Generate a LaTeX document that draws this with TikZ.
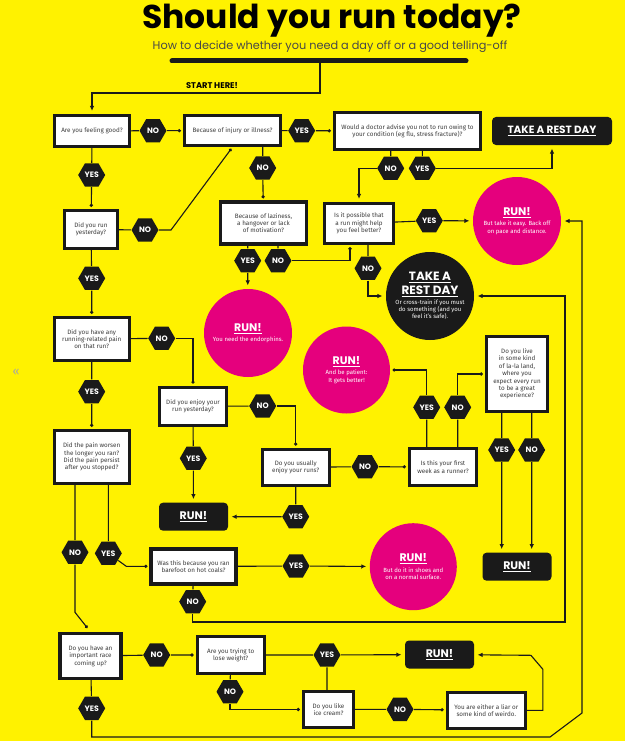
\documentclass[tikz,border=0pt]{standalone}
\usepackage{fontspec}
\setmainfont{Fira Sans}
\newfontfamily\headfont{Poppins}
\usetikzlibrary{shapes.geometric,arrows.meta}

\definecolor{flyer}{HTML}{FFF200}
\definecolor{pinkrun}{HTML}{E5007D}
\definecolor{ink}{HTML}{1A1A1A}
\definecolor{boxtext}{HTML}{3C3C3C}

\newcommand{\runtag}[2][11]{{\headfont\bfseries\fontsize{#1}{#1}\selectfont\underline{#2}}}

\begin{document}
\begin{tikzpicture}[x=1pt, y=-1pt, line width=1.1pt, draw=ink,
  q/.style={draw=ink, line width=3.2pt, fill=white, align=center, text=boxtext, inner sep=1pt, font=\fontsize{6.3}{7.4}\selectfont},
  yn/.style={regular polygon, regular polygon sides=6, fill=ink, text=white, minimum size=27pt, inner sep=0pt, font=\headfont\bfseries\fontsize{7.8}{7.8}\selectfont},
  verdict/.style={fill=ink, rounded corners=4pt, text=white, minimum width=69pt, minimum height=28pt, inner sep=0pt},
  bubble/.style={circle, fill=pinkrun, text=white, align=center, minimum size=88pt, inner sep=0pt, font=\fontsize{6}{7.2}\selectfont},
  arr/.style={-{Latex[length=5pt,width=4.5pt]}, shorten >=3pt},
  dotend/.style={-{Circle[length=3.2pt]}, shorten >=2pt}]
\fill[flyer] (0,0) rectangle (625,741);
\useasboundingbox (0,0) rectangle (625,741);

\node[font=\headfont\bfseries\fontsize{33}{33}\selectfont, anchor=base] (title) at (332,29) {Should you run today?};
\node[font=\headfont\fontsize{11.3}{11.3}\selectfont, text=ink!80, anchor=base] (subtitle) at (330,50) {How to decide whether you need a day off or a good telling-off};
\draw[line width=5pt, line cap=round] (172,61) -- (466,61);
\coordinate (barmid) at (320,61);
\node[font=\headfont\bfseries\fontsize{8.3}{8.3}\selectfont, anchor=base] (start) at (212,89) {START HERE!};
\node[text=black!35, font=\fontsize{12}{12}\selectfont] (nav) at (16,372) {«};

\node[q, minimum width=75pt, minimum height=31pt] (feel) at (92,131) {Are you feeling good?};
\node[q, minimum width=96pt, minimum height=30pt] (injury) at (232.5,130.5) {Because of injury or illness?};
\node[q, minimum width=146pt, minimum height=37pt] (doctor) at (407.5,131) {Would a doctor advise you not to run owing to\\ your condition (eg flu, stress fracture)?};
\node[verdict, minimum width=120pt] (rest1) at (552,131) {\runtag[10.5]{TAKE A REST DAY}};
\node[q, minimum width=53pt, minimum height=38pt] (yesterday) at (91,229.5) {Did you run\\ yesterday?};
\node[q, minimum width=86pt, minimum height=42pt] (laziness) at (263.5,223) {Because of laziness,\\ a hangover or lack\\ of motivation?};
\node[q, minimum width=69pt, minimum height=40pt] (possible) at (359,223.5) {Is it possible that\\ a run might help\\ you feel better?};
\node[bubble] (runeasy) at (517,221) {\runtag{RUN!}\\[3pt] But take it easy. Back off\\ on pace and distance.};
\node[bubble, fill=ink] (rest) at (430,296) {\runtag[12]{TAKE A}\\[2pt]\runtag[12]{REST DAY}\\[3pt] Or cross-train if you must\\ do something (and you\\ feel it's safe).};
\node[bubble] (endorph) at (248,333) {\runtag{RUN!}\\[3pt] You need the endorphins.};
\node[bubble, minimum size=87pt] (patient) at (346.5,370) {\runtag{RUN!}\\[3pt] And be patient:\\ It gets better!};
\node[q, minimum width=75pt, minimum height=43pt] (pain) at (91.7,339) {Did you have any\\ running-related pain\\ on that run?};
\node[q, minimum width=61pt, minimum height=75pt] (lala) at (517,374) {Do you live\\ in some kind\\ of la-la land,\\ where you\\ expect every run\\ to be a great\\ experience?};
\node[q, minimum width=67pt, minimum height=38pt] (enjoy) at (193,406.3) {Did you enjoy your\\ run yesterday?};
\node[q, minimum width=75pt, minimum height=53pt] (worsen) at (91.7,457) {Did the pain worsen\\ the longer you ran?\\ Did the pain persist\\ after you stopped?};
\node[q, minimum width=67pt, minimum height=36pt] (usually) at (295.7,467.3) {Do you usually\\ enjoy your runs?};
\node[q, minimum width=67pt, minimum height=37pt] (first) at (443,467) {Is this your first\\ week as a runner?};
\node[verdict] (run2) at (193.5,516.7) {\runtag{RUN!}};
\node[verdict] (run3) at (517,566.7) {\runtag{RUN!}};
\node[q, minimum width=85pt, minimum height=35pt] (barefoot) at (193.5,566.5) {Was this because you ran\\ barefoot on hot coals?};
\node[bubble, minimum size=87pt] (shoes) at (413.3,566.7) {\runtag{RUN!}\\[3pt] But do it in shoes and\\ on a normal surface.};
\node[q, minimum width=61pt, minimum height=45pt] (race) at (90.5,656) {Do you have an\\ important race\\ coming up?};
\node[q, minimum width=67pt, minimum height=37pt] (weight) at (230.7,655) {Are you trying to\\ lose weight?};
\node[verdict] (run4) at (439.5,654.5) {\runtag{RUN!}};
\node[q, minimum width=50pt, minimum height=36pt] (icecream) at (328.5,709.5) {Do you like\\ ice cream?};
\node[q, minimum width=78pt, minimum height=36pt] (weirdo) at (486.3,710.3) {You are either a liar or\\ some kind of weirdo.};

\foreach \nm/\x/\y/\t in {fgNo/153/130.7/NO, injYes/301.7/130.7/YES, docNo/390.7/168.3/NO, docYes/422.3/168.3/YES,
  feelYes/91.7/175/YES, injNo/262.7/168/NO, ystNo/145/230/NO, lazYes/247.7/260.7/YES, lazNo/278/260.7/NO,
  posYes/429.3/220.7/YES, posNo/368/268.3/NO, ystYes/91.7/278.3/YES, painNo/161.7/338.3/NO, painYes/91.7/391.7/YES,
  enjNo/262.7/406/NO, enjYes/193.3/458.3/YES, usuYes/295.7/516.7/YES, usuNo/365/466.7/NO,
  firstYes/426.7/407.3/YES, firstNo/457.7/407.3/NO, lalaYes/501.7/450/YES, lalaNo/531.7/450/NO,
  wrsNo/75/552.3/NO, wrsYes/108.3/553.3/YES, bfYes/296/566/YES, bfNo/192.7/601.7/NO,
  raceNo/156.7/655/NO, wtYes/327/655/YES, wtNo/230/691.7/NO, iceNo/400/709.3/NO, raceYes/91.7/708.3/YES}
  {\node[yn] (\nm) at (\x,\y) {\t};}

\draw[arr] (barmid) -- (barmid |- 0,93) -| (feel.north);
\draw (feel) -- (fgNo);
\draw[dotend] (fgNo) -- (injury);
\draw (injury) -- (injYes);
\draw[dotend] (injYes) -- (doctor);
\draw (doctor.south -| docNo) -- (docNo);
\draw (doctor.south -| docYes) -- (docYes);
\draw[arr] (docYes) -| (rest1);
\draw[arr] (docNo) -| (possible);
\draw (feel) -- (feelYes);
\draw[dotend] (feelYes) -- (yesterday);
\draw (yesterday) -- (ystNo);
\draw[dotend] (ystNo) -- ++(26,0) -- (injury.south);
\draw (injury.south -| injNo) -- (injNo);
\draw[dotend] (injNo) -- (laziness);
\draw (laziness.south -| lazYes) -- (lazYes);
\draw (laziness.south -| lazNo) -- (lazNo);
\draw[arr] (lazYes) -- (endorph);
\draw[dotend] (lazNo) -| ([xshift=-9pt]possible.south);
\draw (possible) -- (posYes);
\draw[arr] (posYes) -- (runeasy);
\draw (possible.south -| posNo) -- (posNo);
\draw[arr] (posNo) |- (rest);
\draw (yesterday) -- (ystYes);
\draw[dotend] (ystYes) -- (pain);
\draw (pain) -- (painNo);
\draw[dotend] (painNo) -| (enjoy.north);
\draw (enjoy) -- (enjNo);
\draw[dotend] (enjNo) -| (usually.north);
\draw (enjoy) -- (enjYes);
\draw[arr] (enjYes) -- (run2);
\draw (usually) -- (usuYes);
\draw[arr] (usuYes) -- (run2);
\draw (usually) -- (usuNo);
\draw[dotend] (usuNo) -- (first);
\draw (first.north -| firstYes) -- (firstYes);
\draw (first.north -| firstNo) -- (firstNo);
\draw[dotend] (firstYes) |- (patient);
\draw[dotend] (firstNo) |- (lala.west);
\draw (lala.south -| lalaYes) -- (lalaYes);
\draw (lala.south -| lalaNo) -- (lalaNo);
\draw[arr] (lalaYes) -- (lalaYes |- run3.north);
\draw[arr] (lalaNo) -- (lalaNo |- run3.north);
\draw (pain) -- (painYes);
\draw[dotend] (painYes) -- (worsen);
\draw (worsen.south -| wrsNo) -- (wrsNo);
\draw (worsen.south -| wrsYes) -- (wrsYes);
\draw[dotend] (wrsYes) -- ++(18,13) -- (barefoot);
\draw (barefoot) -- (bfYes);
\draw[arr] (bfYes) -- (shoes);
\draw (barefoot) -- (bfNo);
\draw[arr] (bfNo) |- (565,622) |- (rest);
\draw[dotend, shorten >=5pt] (wrsNo) -- ++(0,60) -- (race.north);
\draw (race) -- (raceNo);
\draw[dotend] (raceNo) -- (weight);
\draw (weight) -- (wtYes);
\draw[arr] (wtYes) -- (run4);
\draw (weight) -- (wtNo);
\draw[dotend] (wtNo) |- (icecream);
\draw (icecream.north -| wtYes) -- (wtYes);
\draw (icecream) -- (iceNo);
\draw[dotend] (iceNo) -- (weirdo);
\draw[arr] (weirdo.east) -- ++(16,0) -- ++(0,-41) -- ++(-12,-14) -- (run4);
\draw (race) -- (raceYes);
\draw[arr] (raceYes) |- (550,737) -- (582,713) |- (runeasy);
\end{tikzpicture}
\end{document}
